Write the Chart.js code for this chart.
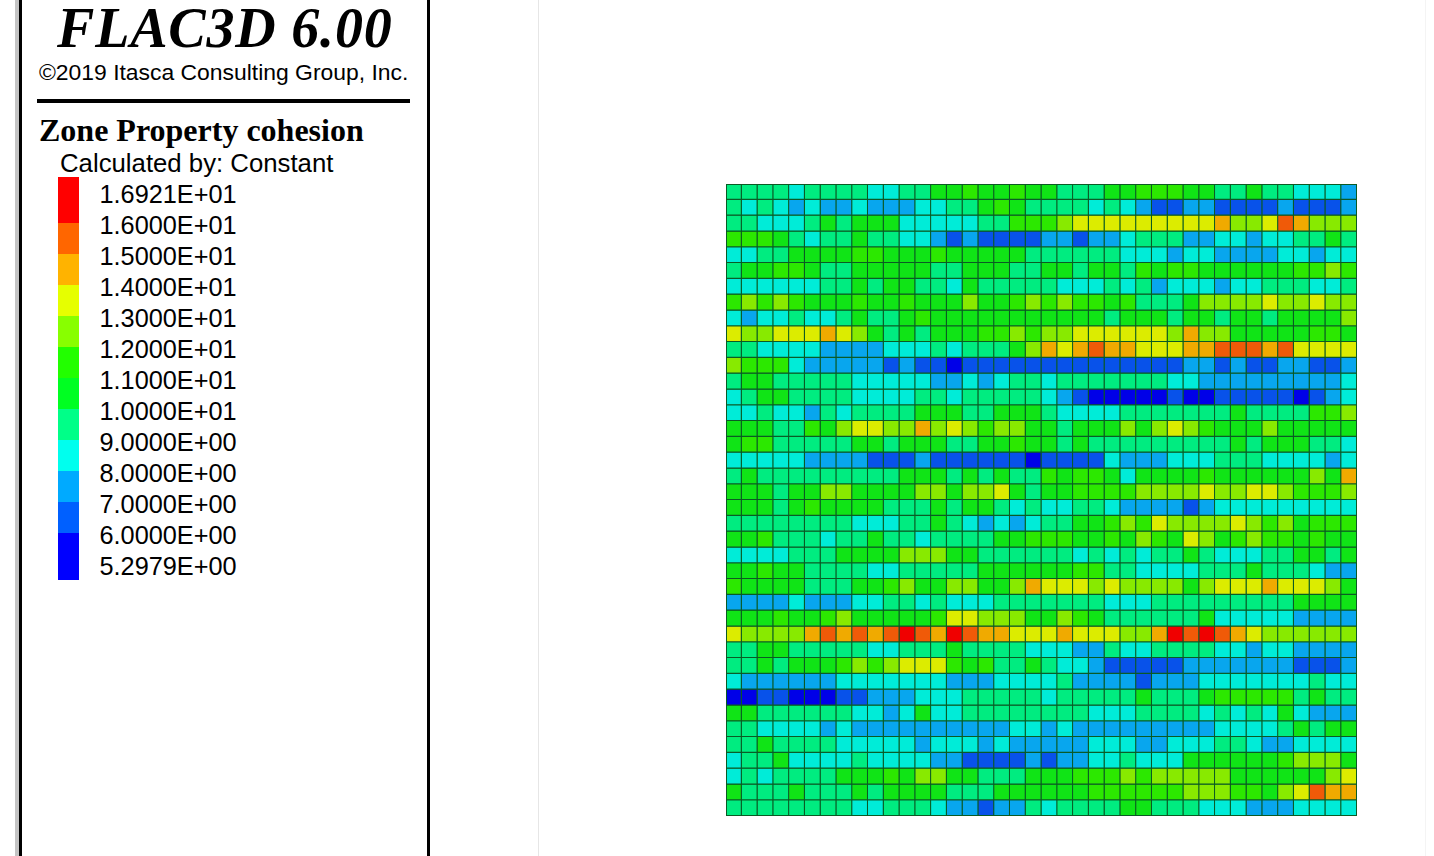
<!DOCTYPE html>
<html>
<head>
<meta charset="utf-8">
<title>FLAC3D 6.00</title>
<script src="https://cdn.jsdelivr.net/npm/chart.js@4"></script>
<style>
  html, body { margin: 0; background: #fff; overflow: hidden; }
  body { position: relative; width: 1434px; height: 856px; color: #000; font-family: "Liberation Sans", Arial, sans-serif; }
  .abs { position: absolute; white-space: nowrap; }
  #stripGrey { left: 15px; top: 0; width: 4px; height: 856px; background: #c4c4c4; }
  #frameL { left: 19px; top: 0; width: 3px; height: 856px; background: #000; }
  #frameR { left: 427px; top: 0; width: 3px; height: 856px; background: #000; }
  #faintA { left: 538px; top: 0; width: 1px; height: 856px; background: #e6e6e6; }
  #faintB { left: 1425px; top: 0; width: 1px; height: 856px; background: #f4f4f4; }
  #title { left: 57px; top: -3px; font: italic bold 56px "Liberation Serif", serif; letter-spacing: 0.8px; line-height: 62px; }
  #copy { left: 39px; top: 59px; font-size: 22.9px; line-height: 26px; }
  #rule { left: 37px; top: 99px; width: 373px; height: 4px; background: #000; }
  #prop { left: 39px; top: 112px; font: bold 32px "Liberation Serif", serif; line-height: 36px; }
  #calc { left: 60px; top: 148px; font-size: 25.75px; line-height: 30px; }
  #legend div { position: absolute; }
  #legend .swatch { left: 58px; width: 21px; }
  #legend .tick { left: 99.5px; font-size: 25.3px; line-height: 30px; white-space: nowrap; }
  #zones { position: absolute; left: 726px; top: 184px; background: #0b5a24; }
</style>
</head>
<body>

<div class="abs" id="stripGrey"></div>
<div class="abs" id="frameL"></div>
<div class="abs" id="frameR"></div>
<div class="abs" id="faintA"></div>
<div class="abs" id="faintB"></div>

<div class="abs" id="title">FLAC3D 6.00</div>
<div class="abs" id="copy">©2019 Itasca Consulting Group, Inc.</div>
<div class="abs" id="rule"></div>
<div class="abs" id="prop">Zone Property cohesion</div>
<div class="abs" id="calc">Calculated by: Constant</div>
<div id="legend"></div>

<canvas id="zones" width="631" height="632"></canvas>

<script>
/* ==========================================
   DATA
========================================== */

/* legend labels, top to bottom */
const tickLabels = [
  "1.6921E+01", "1.6000E+01", "1.5000E+01", "1.4000E+01", "1.3000E+01",
  "1.2000E+01", "1.1000E+01", "1.0000E+01", "9.0000E+00", "8.0000E+00",
  "7.0000E+00", "6.0000E+00", "5.2979E+00"
];

/* contour bands, low to high: a = 5.2979-6 ... l = 16-16.921 */
const bandCodes = "abcdefghijkl";
const bandColors = [
  "#0000e8", "#0852ea", "#08a6ee", "#00ecd8", "#00ec80", "#10e416",
  "#2ce800", "#88ea00", "#dcec00", "#f0aa00", "#f05a08", "#f00000"
];
const legendColors = [
  "#0000ff", "#0060ff", "#00aaff", "#00ffee", "#00ff88", "#00ff22",
  "#22ff00", "#88ff00", "#e6ff00", "#ffb300", "#ff6600", "#ff0000"
];

/* band of each zone, read row by row from the top of the plot */
const zoneRows = [
  "eeeedeeeeddeeffgffgffeeeffgggffeefeedddc",
  "ededcdccdcccddeefgfeeeededcbbccbbbbcbbbc",
  "eedddefefffdddddeeggghiiiiiiiiijhhikjhhh",
  "gggfedeefeeddcbcbbbbccbccdeeeccddcddeefe",
  "ddeeffffggfffgfffffeeeeeedddcddccccddcdd",
  "effggfeefffffeefffeeffeffegfggffffffgghg",
  "ddddddeefeffeedfeeeeedddedecdddcddeeedde",
  "ghghgfffgffgfffhffghghggfgeeefhhhhihhihh",
  "dcddeddefeefgfffffffffffefffeffeffeffffh",
  "ihhiiijihfefefffgghghhiiiiiihjhhfffffggf",
  "eeddddccccdddedeeefhjijkjjiiijjkkkjkiiii",
  "hgggdcccccbcbbabbbbbbbbbbbbbbccbcbbccbbc",
  "effeeeeedddddccdcdeedeeeeeeeddcccccccccd",
  "deffeeeeddddeedeeeeedcbaaaaabaabbbbbabcd",
  "ddeddcedeeeefffeefffeddddeeeeeeefeeeeggh",
  "fffeegfhiihhjhihghhffefffhfhihgfffhfffff",
  "fggeeeeeffefffeeffgffefeeeeeeeeefefffeed",
  "dddddccccbbbcbbbbbbabbbbdcccdddeeeddddcd",
  "efeeeeeeeeefffefefeegfggfdffffgffffffhfj",
  "fffeffhhffffhhfhhifeffgggghhhhihhiihgggh",
  "fffefgffffeeefeffededdeedccccbcddddddddd",
  "eeeeeeeedddeefedcdcdeeffghgihhhhihghfggg",
  "ffgeeedeefeedeeeeffgggffgfhgfihfghggfgff",
  "ddddeeeffffhhhffeeeeeedededeefedddeeffef",
  "ffgffeeeeddeeeeeffffffggeeddddeeefeeedcc",
  "gffffeeeffghffhhffhjiiihihhhhfhiiijiiihf",
  "ccccdcccddeededddeeeeeeedddeeeeeeeeeffff",
  "fffgffghfffffgiihhhffhgfeeeeeefdddddcccc",
  "ihhhhjkjkjklkjlkjjiiijiiihhjlklkjihhhhhh",
  "eeffeeeeeddeeefeeeedddcceddeeeeddcddcccc",
  "eefefffghghiiigfgeefeddcbbbbbcccccccbbbc",
  "dccccccdddddddcccddddeccccbcccdddddddedd",
  "aabbaaabbcccdddeeeeedeeeeefeeefgggggefee",
  "ffeeeeeeddcdfddeeeeeeeedddeeeedededfdccc",
  "eeddddcdccccccccccddcdcccccccccddddefeff",
  "eefeeeedddddcdddcdcccccdddccdddeedccdddd",
  "deefddddeddddccbbbbcbccddedddffffffghhhf",
  "dedeeeefffgfhhffeeefffggghghhhhhffffffhi",
  "feeefeeefeffffeeeffffffgggggghhhggfhikjj",
  "eeeeeeeeddeeedccbccedeeeeffeeedddcccdddd"
];

/* ==========================================
   LEGEND
========================================== */

const legend = document.getElementById("legend");

/* swatch edges in px, top to bottom */
const swatchEdges = [177, 223, 254, 285, 316, 347, 378, 409, 440, 471, 502, 533, 580];

legendColors.slice().reverse().forEach((color, i) => {
  const swatch = document.createElement("div");
  swatch.className = "swatch";
  swatch.style.top = swatchEdges[i] + "px";
  swatch.style.height = (swatchEdges[i + 1] - swatchEdges[i]) + "px";
  swatch.style.background = color;
  legend.appendChild(swatch);
});

tickLabels.forEach((label, i) => {
  const tick = document.createElement("div");
  tick.className = "tick";
  tick.style.top = (179 + i * 31) + "px";
  tick.textContent = label;
  legend.appendChild(tick);
});

/* ==========================================
   ZONE PLOT
========================================== */

const columnLabels = zoneRows[0].split("").map((_, i) => i + 1);

/* one stacked dataset per row, every zone is one unit high */
const rowDatasets = zoneRows.map((row) => ({
  data: row.split("").map(() => 1),
  backgroundColor: row.split("").map((code) => bandColors[bandCodes.indexOf(code)])
}));

new Chart(
  document.getElementById("zones"),
  {
    type: "bar",

    data: {
      labels: columnLabels,
      datasets: rowDatasets
    },

    options: {

      responsive: false,
      animation: false,
      events: [],

      layout: { padding: 0 },

      datasets: {
        bar: {
          barPercentage: 1,
          categoryPercentage: 1,
          inflateAmount: 0,
          borderSkipped: false,
          borderColor: "#0b5a24",
          borderWidth: (ctx) => ({
            top: ctx.datasetIndex === 0 ? 1 : 0,
            left: ctx.dataIndex === 0 ? 1 : 0,
            right: 1,
            bottom: 1
          })
        }
      },

      scales: {
        x: { stacked: true, display: false },
        y: { stacked: true, display: false, reverse: true, min: 0, max: zoneRows.length }
      },

      plugins: {
        legend: { display: false },
        tooltip: { enabled: false }
      }

    }
  }
);
</script>
</body>
</html>
